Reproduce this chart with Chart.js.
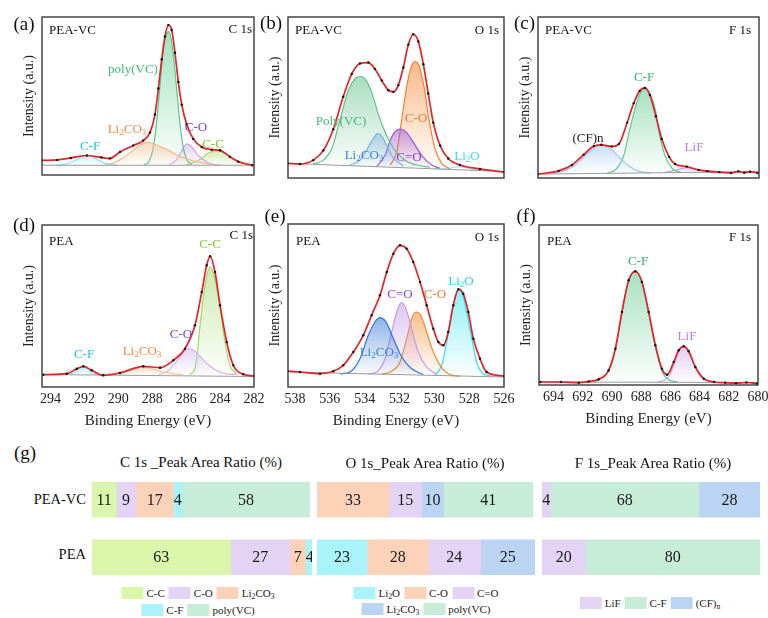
<!DOCTYPE html>
<html>
<head>
<meta charset="utf-8">
<script src="https://cdn.jsdelivr.net/npm/chart.js@4.4.1/dist/chart.umd.min.js"></script>
<style>
  body { margin: 0; background: #fff; }
  #page { position: relative; width: 768px; height: 618px; overflow: hidden; font-family: "Liberation Serif", "Times New Roman", serif; color: #1a1a1a; }
  #page canvas { position: absolute; }
  .lb { position: absolute; white-space: nowrap; line-height: 1; }
  .lb sub, .lg sub { font-size: 70%; vertical-align: -0.3em; line-height: 0; }
  .lg { position: absolute; white-space: nowrap; font-size: 11px; line-height: 12px; transform: translate(-50%, -50%); }
  .lg span { display: inline-block; margin-right: 4px; }
  .lg i { display: inline-block; width: 22px; height: 12px; vertical-align: -2px; margin-right: 3px; }
</style>
</head>
<body>
<div id="page"></div>
<script>
// ---- tick labels ----
var cTicks = [294, 292, 290, 288, 286, 284, 282];
var oTicks = [538, 536, 534, 532, 530, 528, 526];
var fTicks = [694, 692, 690, 688, 686, 684, 682, 680];

// ---- (a) PEA-VC C 1s  [binding energy, intensity] ----
var aBase = [[282, 10], [294.5, 10]];
var aCF = [[290.05,10.1],[290.65,11.4],[291.13,14.9],[291.49,18.4],[291.85,20],[292.21,18.4],[292.57,14.9],[293.05,11.4],[293.65,10.1]];
var aLi2CO3 = [[284.0,10.3],[284.5,11],[285.0,12.5],[285.5,14],[285.97,16.5],[286.5,20],[287.0,25],[287.5,29],[288.0,32.5],[288.33,33.7],[288.6,32],[289.0,27],[289.6,19],[290.2,13],[290.8,10.5]];
var aPolyVC = [[285.67,11],[285.97,16],[286.17,28],[286.36,52],[286.56,88],[286.76,124],[286.91,142],[287.05,147],[287.19,143],[287.35,128],[287.54,92],[287.74,55],[287.94,28],[288.23,13],[288.5,10.3]];
var aCO = [[284.0,10],[284.4,11],[284.8,13.5],[285.28,20],[285.67,29],[285.97,32],[286.26,25],[286.6,15],[287.0,10.5]];
var aCC = [[282.2,10.3],[282.7,12],[283.2,16],[283.7,22],[284.2,25.3],[284.7,22.5],[285.1,17],[285.58,12.5],[286.0,10.3]];
var aFit = [[282.1,10],[282.93,13.7],[283.42,18.7],[284.0,25.3],[284.49,26],[285.08,28.7],[285.58,37],[285.97,52],[286.26,72],[286.46,95.3],[286.66,125.3],[286.85,148.7],[287.05,153.7],[287.25,142],[287.44,118.7],[287.64,88.7],[287.84,62],[288.13,43.7],[288.53,35.3],[289.12,30.3],[289.9,23.7],[290.5,17],[291.0,18],[291.85,20],[292.8,17.5],[293.6,15.5],[294.5,15]];

// ---- (b) PEA-VC O 1s ----
var bBase = [[526, 6.7], [538.4, 15]];
var bPolyVC = [[530.25,11],[531.01,13.3],[531.68,18.3],[532.26,28.3],[532.73,43.3],[533.18,63.3],[533.6,88.3],[533.98,101.7],[534.27,104],[534.55,101.7],[534.94,90],[535.41,60],[535.89,30],[536.37,18.3],[536.95,14.3]];
var bLi2CO3 = [[531.78,12.3],[532.32,20],[532.7,31.7],[533.02,43.3],[533.25,45.7],[533.46,41.7],[533.79,31.7],[534.27,18.3],[534.84,13.3]];
var bCdO = [[529.67,10],[530.15,13.3],[530.73,23.3],[531.21,36.7],[531.63,47.3],[531.97,50],[532.26,47.3],[532.54,38.3],[532.83,23.3],[533.31,11.7]];
var bCO = [[529.1,9.3],[529.58,15],[529.96,30],[530.31,60],[530.59,93.3],[530.88,115],[531.11,119.3],[531.3,115],[531.59,93.3],[531.87,60],[532.16,26.7],[532.54,13.3]];
var bLi2O = [[527.0,7.4],[527.7,8.6],[528.2,10.7],[528.5,11.4],[528.8,11.1],[529.3,9.7],[530.0,9.4]];
var bFit = [[526,6],[527.38,9.3],[528.53,13.3],[529.2,20],[529.67,33.3],[530.06,56.7],[530.35,86.7],[530.63,116.7],[530.92,140],[531.21,147.3],[531.49,136.7],[531.78,113.3],[532.07,95],[532.35,88.3],[532.64,90],[533.02,100],[533.41,111.7],[533.79,118.3],[534.27,117.3],[534.74,106.7],[535.23,83.3],[535.8,50],[536.37,28.3],[536.95,18.3],[537.71,14.3],[538.4,15]];

// ---- (c) PEA-VC F 1s ----
var cBase = [[680, 6.5], [695, 4]];
var cCFn = [[687.4,5],[688.2,7],[688.8,12],[689.4,20],[690.0,29],[690.7,33.3],[691.4,28.5],[692.0,20],[692.6,12],[693.3,7],[694.2,5]];
var cCF = [[685.3,5.5],[685.9,10],[686.4,24],[686.8,48],[687.0,68],[687.4,86],[687.75,91.7],[688.05,87],[688.4,72],[688.8,48],[689.2,22],[689.7,9],[690.3,5]];
var cLiF = [[682.5,5.6],[683.3,6],[684.1,8],[684.9,10.7],[685.7,8],[686.4,5.5]];
var cFit = [[680.1,5],[680.6,6.5],[681.0,5.5],[681.4,6.8],[681.9,5.2],[682.7,6],[683.5,7],[684.1,8.3],[684.9,11.7],[685.7,14.3],[686.1,21.7],[686.6,40],[687.0,63.3],[687.4,85],[687.75,92.3],[688.1,89.3],[688.5,76.7],[688.95,56.7],[689.5,35],[690.0,32.3],[690.7,34],[691.2,32.7],[691.9,24],[692.7,13.3],[693.6,7.3],[695,4]];

// ---- (d) PEA C 1s ----
var dBase = [[282, 10.5], [294.5, 12.5]];
var dCF = [[291.3,12.6],[291.6,14.8],[291.85,18.5],[292.06,20.5],[292.3,18.5],[292.55,15],[292.85,12.6]];
var dLi2CO3 = [[286.2,12.5],[286.8,13.3],[287.4,15.5],[288.0,18.2],[288.53,19.3],[288.9,18.6],[289.4,16.5],[290.2,13.8],[291.0,12.5]];
var dCO = [[283.0,12.5],[283.5,12.8],[284.1,15.5],[284.6,21],[285.1,29],[285.5,36],[285.87,38.3],[286.2,34],[286.6,25],[287.1,16],[287.6,12.5]];
var dCC = [[283.02,13.3],[283.42,21.7],[283.71,45],[284.0,78],[284.3,108],[284.6,120],[284.89,101.7],[285.18,61.7],[285.33,36],[285.48,18.3],[285.8,12.5]];
var dFit = [[282,11],[282.63,12.7],[283.22,21.7],[283.61,45],[284.0,81.7],[284.3,115],[284.59,130.7],[284.79,121.7],[285.08,95],[285.48,61.7],[286.07,38.3],[286.76,26.7],[287.54,19.3],[288.53,20.7],[289.9,14],[290.89,11.7],[291.57,16.7],[292.06,20.7],[292.45,18.3],[293.04,13.3],[294.42,12.3]];

// ---- (e) PEA O 1s ----
var eBase = [[526, 10], [538.4, 15]];
var eLi2CO3 = [[530.63,12.3],[531.3,18.3],[531.87,30],[532.35,48.3],[532.77,65],[533.12,69.3],[533.41,65],[533.79,51.7],[534.27,28.3],[534.84,15],[535.4,13]];
var eCdO = [[529.86,12.3],[530.44,20],[530.92,35],[531.3,58.3],[531.63,78.3],[531.87,84.3],[532.13,76.7],[532.45,55],[532.83,28.3],[533.31,15],[533.8,13]];
var eCO = [[528.53,10.7],[529.2,13.3],[529.67,21.7],[530.06,35],[530.44,55],[530.78,71.7],[531.05,75],[531.3,68.3],[531.59,48.3],[531.97,25],[532.54,15],[533.0,13]];
var eLi2O = [[526.6,11],[527.19,13.3],[527.57,25],[527.85,48.3],[528.14,75],[528.39,93.3],[528.6,97.7],[528.77,91.7],[529.0,75],[529.29,45],[529.58,21.7],[529.96,11.7]];
var eFit = [[526,11],[527.0,15],[527.38,28.3],[527.76,48.3],[528.05,75],[528.34,93.3],[528.62,97.7],[528.91,81.7],[529.2,55],[529.48,41.7],[529.77,45],[530.06,58.3],[530.44,81.7],[530.82,105],[531.21,125],[531.59,138.3],[531.97,141.7],[532.35,133.3],[532.73,115],[533.12,91.7],[533.6,71.7],[534.08,51.7],[534.65,35],[535.23,21.7],[535.8,15.7],[536.56,13.3],[537.71,15],[538.4,16]];

// ---- (f) PEA F 1s ----
var fBase = [[680, 2.5], [695, 3]];
var fCF = [[685.5,3],[686.1,5],[686.58,14],[687.03,38.5],[687.49,72.5],[687.95,103],[688.4,113.5],[688.86,104.5],[689.32,72.5],[689.77,36],[690.23,14.5],[690.6,8],[691.2,3]];
var fLiF = [[683.2,3.2],[683.72,6.3],[684.29,18],[684.75,33.7],[685.09,38.7],[685.43,33],[685.77,20],[686.1,9],[686.4,5],[686.9,3]];
var fFit = [[680.07,1.3],[680.8,2.5],[681.5,1.8],[682.24,2.3],[683.0,3],[683.72,6.3],[684.29,18],[684.75,33.7],[685.09,38.7],[685.43,34.7],[685.77,23],[686.23,10.3],[686.58,16.3],[687.03,39.7],[687.49,73],[687.95,103],[688.4,113.7],[688.86,104.7],[689.32,73],[689.77,36.3],[690.23,14.7],[690.91,5.7],[691.6,3.5],[692.28,2.3],[693.5,3],[694.91,3]];

// ---- (g) peak area ratios (%) ----
var rows = ['PEA-VC', 'PEA'];
var cNames = ['C-C', 'C-O', 'Li2CO3', 'C-F', 'poly(VC)'];
var cPEAVC = [11, 9, 17, 4, 58];
var cPEA = [63, 27, 7, 4, 0];
var oNames = ['Li2O', 'C-O', 'C=O', 'Li2CO3', 'poly(VC)'];
var oPEAVC = [0, 33, 15, 10, 41];
var oPEA = [23, 28, 24, 25, 0];
var fNames = ['LiF', 'C-F', '(CF)n'];
var fPEAVC = [4, 68, 28];
var fPEA = [20, 80, 0];

var cColors = ['#daf6aa', '#e3d3f4', '#fcd3b9', '#a9f3fa', '#c7ecd8'];
var oColors = ['#a9f3fa', '#fcd3b9', '#e3d3f4', '#bcd4f3', '#c7ecd8'];
var fColors = ['#e3d3f4', '#c7ecd8', '#bcd4f3'];

var SERIF = '"Liberation Serif", "Times New Roman", serif';
var page = document.getElementById('page');

function pts(a) { return a.map(function (p) { return {x: p[0], y: p[1]}; }); }
function rgba(hex, al) {
  var n = parseInt(hex.slice(1), 16);
  return 'rgba(' + (n >> 16) + ',' + ((n >> 8) & 255) + ',' + (n & 255) + ',' + al + ')';
}
function grad(hex, arr, base) {
  var top = Math.max.apply(null, arr.map(function (p) { return p[1]; }));
  return function (ctx) {
    var ch = ctx.chart, ys = ch.scales.y;
    if (!ys || !ch.chartArea) return 'transparent';
    var g = ch.ctx.createLinearGradient(0, ys.getPixelForValue(top), 0, ys.getPixelForValue(base));
    g.addColorStop(0, rgba(hex, 0.55));
    g.addColorStop(1, rgba(hex, 0.02));
    return g;
  };
}

var framePlugin = {
  id: 'frame',
  afterDraw: function (ch) {
    var a = ch.chartArea, c = ch.ctx;
    c.save();
    c.strokeStyle = '#3a3a3a';
    c.lineWidth = 1.4;
    c.strokeRect(a.left, a.top, a.right - a.left, a.bottom - a.top);
    c.restore();
  }
};

function xps(box, range, ticks, base, comps, fit, showX) {
  var cv = document.createElement('canvas');
  cv.width = box.R - box.L + 46;
  cv.height = box.B - box.T + 4 + (showX ? 44 : 0);
  cv.style.left = (box.L - 30) + 'px';
  cv.style.top = (box.T - 2) + 'px';
  page.appendChild(cv);
  var lvl = (base[0][1] + base[base.length - 1][1]) / 2;
  var sets = [
    {data: pts(fit), borderColor: '#e5232a', borderWidth: 1.7, pointRadius: 1.2,
     pointBackgroundColor: '#111', pointBorderWidth: 0, fill: false},
    {data: pts(base), borderColor: '#9b9b9b', borderWidth: 1, pointRadius: 0, fill: false}
  ];
  comps.forEach(function (c) {
    sets.push({data: pts(c[0]), borderColor: c[1], borderWidth: 1.2, pointRadius: 0,
               fill: {value: lvl}, backgroundColor: grad(c[1], c[0], lvl)});
  });
  new Chart(cv, {
    type: 'line',
    data: {datasets: sets},
    options: {
      responsive: false, animation: false, devicePixelRatio: 1,
      layout: {padding: {left: 0, top: 2, right: 16, bottom: showX ? 0 : 2}},
      plugins: {legend: {display: false}, tooltip: {enabled: false}},
      elements: {line: {cubicInterpolationMode: 'monotone'}},
      scales: {
        x: {
          type: 'linear', reverse: true, min: range[0], max: range[1], display: showX,
          grid: {display: false, drawTicks: false}, border: {display: false},
          afterBuildTicks: function (ax) { ax.ticks = ticks.map(function (v) { return {value: v}; }); },
          afterFit: function (ax) { ax.height = showX ? 44 : 0; },
          ticks: {font: {family: SERIF, size: 14}, color: '#222', padding: 4, maxRotation: 0, autoSkip: false},
          title: {display: true, text: 'Binding Energy (eV)', font: {family: SERIF, size: 15}, color: '#222',
                  padding: {top: 0, bottom: 1}}
        },
        y: {
          min: 0, max: box.B - box.T,
          grid: {display: false, drawTicks: false}, border: {display: false}, ticks: {display: false},
          afterFit: function (ax) { ax.width = 30; },
          title: {display: true, text: 'Intensity (a.u.)', font: {family: SERIF, size: 14}, color: '#222',
                  padding: {top: 9, bottom: 0}}
        }
      }
    },
    plugins: [framePlugin]
  });
}

xps({L: 42, T: 15, R: 254, B: 177}, [282, 294.5], cTicks, aBase,
    [[aCF, '#8ee6ee'], [aLi2CO3, '#f6b98b'], [aPolyVC, '#57c98c'], [aCO, '#cfa8f0'], [aCC, '#a9dc6b']], aFit, false);
xps({L: 288, T: 15, R: 504, B: 180}, [526, 538.4], oTicks, bBase,
    [[bPolyVC, '#63c28d'], [bLi2CO3, '#7eb0ec'], [bCdO, '#9b55d8'], [bCO, '#f5822a'], [bLi2O, '#8ff0f6']], bFit, false);
xps({L: 538, T: 15, R: 759, B: 180}, [680, 695], fTicks, cBase,
    [[cCFn, '#9fc5f0'], [cCF, '#5dc98d'], [cLiF, '#c9a4ee']], cFit, false);
xps({L: 42, T: 223, R: 254, B: 385}, [282, 294.5], cTicks, dBase,
    [[dCF, '#7fe6ee'], [dLi2CO3, '#f8c9a0'], [dCO, '#d3b5f2'], [dCC, '#a2d86a']], dFit, true);
xps({L: 288, T: 222, R: 504, B: 385}, [526, 538.4], oTicks, eBase,
    [[eLi2CO3, '#2f74d8'], [eCdO, '#c49be8'], [eCO, '#f28a2c'], [eLi2O, '#2fe2ee']], eFit, true);
xps({L: 539, T: 223, R: 758, B: 383}, [680, 695], fTicks, fBase,
    [[fCF, '#5dc98d'], [fLiF, '#c9a4ee']], fFit, true);

// ---- stacked ratio bars ----
var valuePlugin = {
  id: 'values',
  afterDatasetsDraw: function (ch) {
    var c = ch.ctx;
    c.save();
    c.font = '16px ' + SERIF;
    c.fillStyle = '#1a1a1a';
    c.textAlign = 'center';
    c.textBaseline = 'middle';
    ch.data.datasets.forEach(function (ds, i) {
      ch.getDatasetMeta(i).data.forEach(function (el, j) {
        var v = ds.data[j];
        if (v > 0) c.fillText(String(v), (el.x + el.base) / 2, el.y + 1);
      });
    });
    c.restore();
  }
};

function bars(left, width, names, colors, vc, pea) {
  var cv = document.createElement('canvas');
  cv.width = width; cv.height = 115;
  cv.style.left = left + 'px'; cv.style.top = '471px';
  page.appendChild(cv);
  new Chart(cv, {
    type: 'bar',
    data: {
      labels: rows,
      datasets: names.map(function (n, i) {
        return {label: n, data: [vc[i], pea[i]], backgroundColor: colors[i], borderWidth: 0, barThickness: 35};
      })
    },
    options: {
      indexAxis: 'y', responsive: false, animation: false, devicePixelRatio: 1,
      layout: {padding: 0},
      plugins: {legend: {display: false}, tooltip: {enabled: false}},
      scales: {
        x: {stacked: true, min: 0, max: 100, display: false},
        y: {stacked: true, display: false}
      }
    },
    plugins: [valuePlugin]
  });
}
bars(92, 220, cNames, cColors, cPEAVC, cPEA);
bars(317, 218, oNames, oColors, oPEAVC, oPEA);
bars(542, 218, fNames, fColors, fPEAVC, fPEA);

function subs(s) {
  return s.replace(/(\d)/g, '<sub>$1</sub>').replace(/\)n$/, ')<sub>n</sub>');
}
function legend(names, colors, rowsIdx, cx, ys) {
  rowsIdx.forEach(function (r, k) {
    var d = document.createElement('div');
    d.className = 'lg';
    d.style.left = cx + 'px';
    d.style.top = ys[k] + 'px';
    d.innerHTML = r.map(function (i) {
      return '<span><i style="background:' + colors[i] + '"></i>' + subs(names[i]) + '</span>';
    }).join('');
    page.appendChild(d);
  });
}
legend(cNames, cColors, [[0, 1, 2], [3, 4]], 200, [593, 610]);
legend(oNames, oColors, [[0, 1, 2], [3, 4]], 428, [593, 609]);
legend(fNames, fColors, [[0, 1, 2]], 652, [603]);

// ---- text annotations: [html, x, y, size, colour, align] ----
var L2C = 'Li<sub>2</sub>CO<sub>3</sub>', L2O = 'Li<sub>2</sub>O';
var notes = [
  ['(a)', 24, 23, 19, '#111', 'c'], ['(b)', 271, 22, 19, '#111', 'c'], ['(c)', 524.5, 22, 19, '#111', 'c'],
  ['(d)', 24, 224, 19, '#111', 'c'], ['(e)', 275, 215, 19, '#111', 'c'], ['(f)', 526, 215, 19, '#111', 'c'],
  ['(g)', 25, 452, 19, '#111', 'c'],
  ['PEA-VC', 49, 29, 13, '#111', 'l'], ['C 1s', 252, 28, 13, '#111', 'r'],
  ['PEA-VC', 295, 29, 13, '#111', 'l'], ['O 1s', 499, 29, 13, '#111', 'r'],
  ['PEA-VC', 545, 29, 13, '#111', 'l'], ['F 1s', 751, 29, 13, '#111', 'r'],
  ['PEA', 49, 240, 13, '#111', 'l'], ['C 1s', 253, 234, 13, '#111', 'r'],
  ['PEA', 296, 240, 13, '#111', 'l'], ['O 1s', 499, 236, 13, '#111', 'r'],
  ['PEA', 547, 240, 13, '#111', 'l'], ['F 1s', 751, 236, 13, '#111', 'r'],
  ['poly(VC)', 133, 68, 13, '#3dbb7a', 'c'], [L2C, 127, 128, 13, '#f08a4b', 'c'], ['C-F', 90, 145, 13, '#1fc6d3', 'c'],
  ['C-O', 196, 126, 13, '#7b3fc4', 'c'], ['C-C', 213, 143, 13, '#7ec623', 'c'],
  ['Poly(VC)', 341, 120, 13, '#3fbb73', 'c'], [L2C, 364, 154, 13, '#3c7edb', 'c'], ['C=O', 409, 156, 13, '#8a3fcf', 'c'],
  ['C-O', 416, 117, 13, '#f17a25', 'c'], [L2O, 467, 155, 13, '#35e0ef', 'c'],
  ['C-F', 644, 76, 13, '#2fb56a', 'c'], ['(CF)n', 588, 137, 13, '#222', 'c'], ['LiF', 694, 146, 13, '#b87ce8', 'c'],
  ['C-C', 210, 243, 13, '#7ec623', 'c'], ['C-O', 181, 333, 13, '#7b3fc4', 'c'], [L2C, 142, 350, 13, '#f08a4b', 'c'],
  ['C-F', 84, 353, 13, '#1fc6d3', 'c'],
  ['C=O', 400, 293, 13, '#8a3fcf', 'c'], ['C-O', 435, 293, 13, '#f17a25', 'c'], [L2O, 461, 280, 13, '#1fd8e8', 'c'],
  [L2C, 379, 351, 13, '#3c7edb', 'c'],
  ['C-F', 638, 260, 13, '#2fb56a', 'c'], ['LiF', 687, 335, 13, '#b87ce8', 'c'],
  ['C 1s _Peak Area Ratio (%)', 201, 462, 15, '#111', 'c'],
  ['O 1s_Peak Area Ratio (%)', 425, 463, 15, '#111', 'c'],
  ['F 1s_Peak Area Ratio (%)', 653, 463, 15, '#111', 'c'],
  [rows[0], 86, 499, 14.5, '#111', 'r'], [rows[1], 86, 554, 14.5, '#111', 'r']
];
notes.forEach(function (n) {
  var d = document.createElement('div');
  d.className = 'lb';
  d.innerHTML = n[0];
  d.style.fontSize = n[3] + 'px';
  d.style.color = n[4];
  d.style.top = n[2] + 'px';
  if (n[5] === 'r') { d.style.right = (768 - n[1]) + 'px'; d.style.transform = 'translateY(-50%)'; }
  else if (n[5] === 'l') { d.style.left = n[1] + 'px'; d.style.transform = 'translateY(-50%)'; }
  else { d.style.left = n[1] + 'px'; d.style.transform = 'translate(-50%,-50%)'; }
  page.appendChild(d);
});
</script>
</body>
</html>
